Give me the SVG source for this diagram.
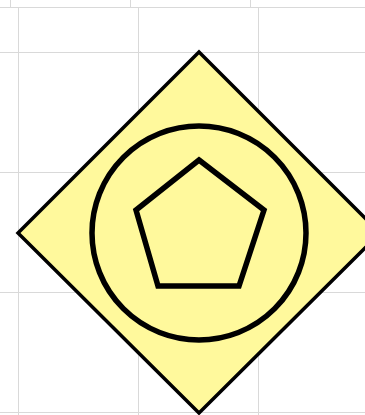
<svg xmlns="http://www.w3.org/2000/svg" width="365" height="415" viewBox="0 0 365 415">
<style>
.grid{stroke:#d9d9d9;stroke-width:1;fill:none}
.shape{fill:#fff99c;stroke:#000;stroke-linejoin:miter}
</style>
<rect width="365" height="415" fill="#fff"/>
<g id="grid" class="grid">
<path d="M10.5 0V7M130.5 0V7M250.5 0V7M0 7.5H365"/>
<path d="M18.5 8V415M138.5 8V415M258.5 8V415"/>
<path d="M0 52.5H365M0 172.5H365M0 292.5H365M0 412.5H365"/>
</g>
<g id="gateway">
<polygon class="shape" points="199,52 380,233 199,413 18,233" stroke-width="3.5"/>
<circle cx="199" cy="233" r="107" fill="none" stroke="#000" stroke-width="5.5"/>
<polygon points="199,160 264,210 239,286 158,286 136,210" fill="none" stroke="#000" stroke-width="5.5" stroke-linejoin="miter"/>
</g>
<g id="connectors"/>
</svg>
